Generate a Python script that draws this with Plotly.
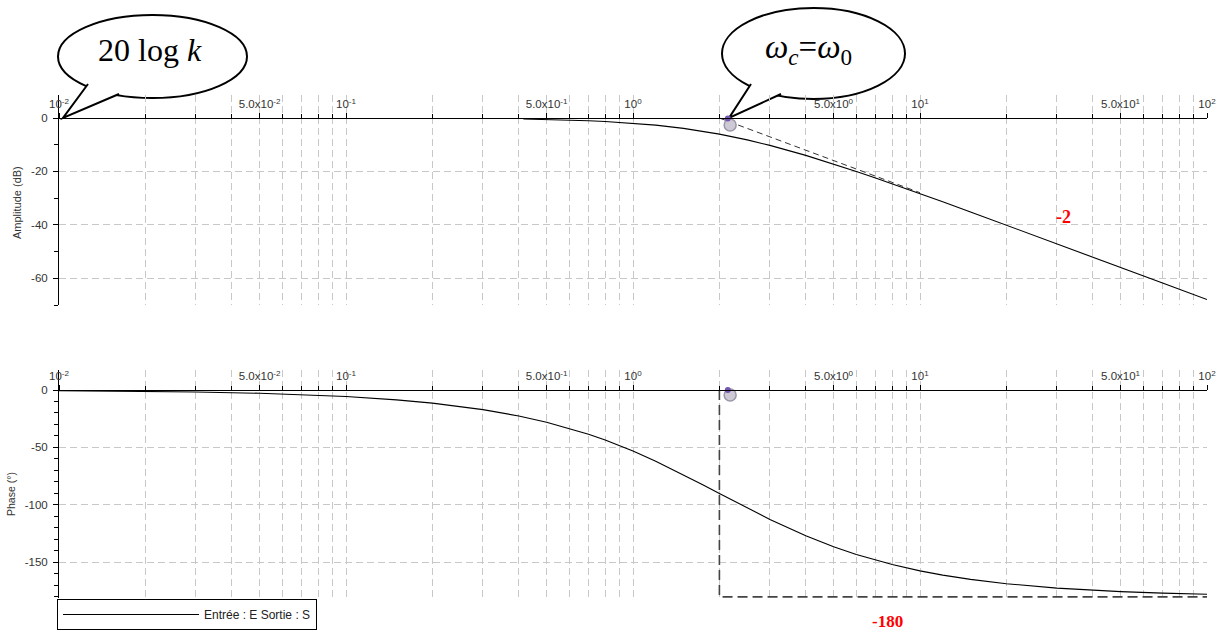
import plotly.graph_objects as go

W, H = 1223, 634

# ---------------- data ----------------
freq_tick_vals = [0.01, 0.05, 0.1, 0.5, 1, 5, 10, 50, 100]
freq_tick_text = ["10<sup>-2</sup>", "5.0x10<sup>-2</sup>", "10<sup>-1</sup>", "5.0x10<sup>-1</sup>",
                  "10<sup>0</sup>", "5.0x10<sup>0</sup>", "10<sup>1</sup>", "5.0x10<sup>1</sup>", "10<sup>2</sup>"]
freq_minor_vals = [0.02, 0.03, 0.04, 0.06, 0.07, 0.08, 0.09,
                   0.2, 0.3, 0.4, 0.6, 0.7, 0.8, 0.9,
                   2, 3, 4, 6, 7, 8, 9,
                   20, 30, 40, 60, 70, 80, 90]

amp_tick_vals = [0, -20, -40, -60]
amp_tick_text = ["0", "-20", "-40", "-60"]
amp_minor_vals = [-10, -30, -50, -70]
phase_tick_vals = [0, -50, -100, -150]
phase_tick_text = ["0", "-50", "-100", "-150"]
phase_minor_vals = [-10, -20, -30, -40, -60, -70, -80, -90, -110, -120, -130, -140, -160, -170, -180]

amp_w = [0.415, 0.5, 0.6, 0.7, 0.8, 1, 1.2, 1.5, 1.75, 2, 2.5, 3, 4, 5, 6, 7, 8, 10, 12, 15, 20, 30, 40, 50, 70, 100]
amp_db = [-0.37, -0.53, -0.75, -1.0, -1.29, -1.94, -2.67, -3.88, -4.94, -6.02, -8.17, -10.24, -13.98,
          -17.21, -20.0, -22.44, -24.61, -28.3, -31.36, -35.16, -40.09, -47.08, -52.06, -55.93, -61.77, -67.96]

asym_w = [2, 10]
asym_db = [0, -27.96]

phase_w = [0.01, 0.015, 0.02, 0.03, 0.05, 0.07, 0.1, 0.15, 0.2, 0.3, 0.4, 0.5, 0.6, 0.7, 0.8, 1, 1.2, 1.5,
           1.75, 2, 2.5, 3, 4, 5, 6, 7, 8, 10, 12, 15, 20, 30, 40, 50, 70, 100]
phase_deg = [-0.57, -0.86, -1.15, -1.72, -2.86, -4.01, -5.72, -8.58, -11.42, -17.06, -22.62, -28.07, -33.4,
             -38.58, -43.6, -53.13, -61.93, -73.74, -82.38, -90.0, -102.68, -112.62, -126.87, -136.4,
             -143.13, -148.1, -151.93, -157.38, -161.08, -164.8, -168.58, -172.37, -174.28, -175.42,
             -176.73, -177.71]

guide_w = [2, 2, 100]
guide_deg = [0, -180, -180]

pin_w = [2.14]
pin_amp = [-0.2]
pin_shadow_w = [2.18]
pin_amp_shadow = [-2.6]
pin_phase = [0]
pin_phase_shadow = [-4.3]


def px(x):
    return x / W


def py(y):
    return 1 - y / H


fig = go.Figure()

fig.add_trace(go.Scatter(x=amp_w, y=amp_db, mode="lines", line=dict(color="black", width=1.1),
                         xaxis="x", yaxis="y", showlegend=False, hoverinfo="skip"))
fig.add_trace(go.Scatter(x=asym_w, y=asym_db, mode="lines", line=dict(color="#333", width=1, dash="6px,4px"),
                         xaxis="x", yaxis="y", showlegend=False, hoverinfo="skip"))
fig.add_trace(go.Scatter(x=phase_w, y=phase_deg, mode="lines", line=dict(color="black", width=1.1),
                         xaxis="x2", yaxis="y2", name="Entrée : E Sortie : S", showlegend=True))
fig.add_trace(go.Scatter(x=guide_w, y=guide_deg, mode="lines",
                         line=dict(color="#444", width=1.6, dash="10px,5px"),
                         xaxis="x2", yaxis="y2", showlegend=False, hoverinfo="skip"))

for xa, ya, ys, yd in (("x", "y", pin_amp_shadow, pin_amp), ("x2", "y2", pin_phase_shadow, pin_phase)):
    fig.add_trace(go.Scatter(x=pin_shadow_w, y=ys, mode="markers",
                             marker=dict(size=12, color="#cdcad6", line=dict(color="#9b97a8", width=1.5)),
                             xaxis=xa, yaxis=ya, showlegend=False, hoverinfo="skip", cliponaxis=False))
    fig.add_trace(go.Scatter(x=pin_w, y=yd, mode="markers",
                             marker=dict(size=6, color="#7456b0"),
                             xaxis=xa, yaxis=ya, showlegend=False, hoverinfo="skip", cliponaxis=False))

grid = dict(showgrid=True, gridcolor="#c8c8c8", griddash="7px,4px", gridwidth=1)
sans = "Liberation Sans, Arial, sans-serif"
tickfont = dict(family=sans, size=11.5, color="#333")

xcommon = dict(type="log", range=[-2, 2], domain=[px(59), px(1207)], anchor="free", side="top",
               automargin=False,
               showline=True, linecolor="black", linewidth=1, tickvals=freq_tick_vals, ticktext=freq_tick_text,
               ticks="outside", ticklen=5, tickcolor="black", tickfont=tickfont, zeroline=False,
               minor=dict(tickvals=freq_minor_vals, ticks="outside", ticklen=4, tickcolor="black", **grid),
               **grid)

ycommon = dict(automargin=False, showline=True, linecolor="black", linewidth=1, ticks="outside", ticklen=5,
               tickcolor="black", tickfont=tickfont, zeroline=False, ticklabelstandoff=3, **grid)

fig.update_layout(
    width=W, height=H, margin=dict(l=0, r=0, t=0, b=0, autoexpand=False),
    paper_bgcolor="white", plot_bgcolor="rgba(0,0,0,0)",
    xaxis=dict(position=py(118), **xcommon),
    xaxis2=dict(position=py(390), **xcommon),
    yaxis=dict(range=[-70, 8.625], domain=[py(305), py(95)], anchor="x",
               tickvals=amp_tick_vals, ticktext=amp_tick_text,
               minor=dict(tickvals=amp_minor_vals, ticks="outside", ticklen=4, tickcolor="black", showgrid=False),
               **ycommon),
    yaxis2=dict(range=[-181, 17.4], domain=[py(598), py(370)], anchor="x2",
                tickvals=phase_tick_vals, ticktext=phase_tick_text,
                minor=dict(tickvals=phase_minor_vals, ticks="outside", ticklen=4, tickcolor="black",
                           showgrid=False),
                **ycommon),
    legend=dict(x=px(57), y=py(599), xanchor="left", yanchor="top", bgcolor="white",
                bordercolor="black", borderwidth=1, itemwidth=136, tracegroupgap=0,
                font=dict(family=sans, size=12, color="#222")),
)

# ---------------- speech bubbles ----------------
shapes = []


def bubble(x0, y0, x1, y1, b1, tip, b2):
    shapes.append(dict(type="circle", xref="paper", yref="paper", x0=px(x0), x1=px(x1), y0=py(y1), y1=py(y0),
                       fillcolor="white", line=dict(color="black", width=2), layer="below"))
    path = "M {},{} L {},{} L {},{}".format(px(b1[0]), py(b1[1]), px(tip[0]), py(tip[1]), px(b2[0]), py(b2[1]))
    shapes.append(dict(type="path", xref="paper", yref="paper", path=path, fillcolor="white",
                       line=dict(color="black", width=2), layer="below"))


bubble(58, 15, 247, 98, (88, 84), (63, 118), (119, 94))
bubble(722, 8, 905, 99, (751, 84), (729, 118), (781, 94))
fig.update_layout(shapes=shapes)

serif = "Liberation Serif, Times New Roman, serif"
annotations = [
    dict(text="20 log <i>k</i>", x=px(150), y=py(50), font=dict(family=serif, size=32, color="black")),
    dict(text="<i>ω</i><sub><i>c</i></sub>=<i>ω</i><sub>0</sub>", x=px(808), y=py(50),
         font=dict(family=serif, size=33, color="black")),
    dict(text="<b>-2</b>", x=px(1063), y=py(217), font=dict(family=serif, size=18, color="#ff0000")),
    dict(text="<b>-180</b>", x=px(887), y=py(621), font=dict(family=serif, size=17, color="#ff0000")),
    dict(text="Amplitude (dB)", x=px(17), y=py(203), textangle=-90,
         font=dict(family=sans, size=11, color="#333")),
    dict(text="Phase (°)", x=px(11), y=py(494), textangle=-90,
         font=dict(family=sans, size=10.5, color="#333")),
]
for a in annotations:
    a.update(xref="paper", yref="paper", showarrow=False, xanchor="center", yanchor="middle")
fig.update_layout(annotations=annotations)

fig.write_html("out.html", config={"displayModeBar": False},
               post_script="document.body.style.margin='0px';document.body.style.overflow='hidden';")
